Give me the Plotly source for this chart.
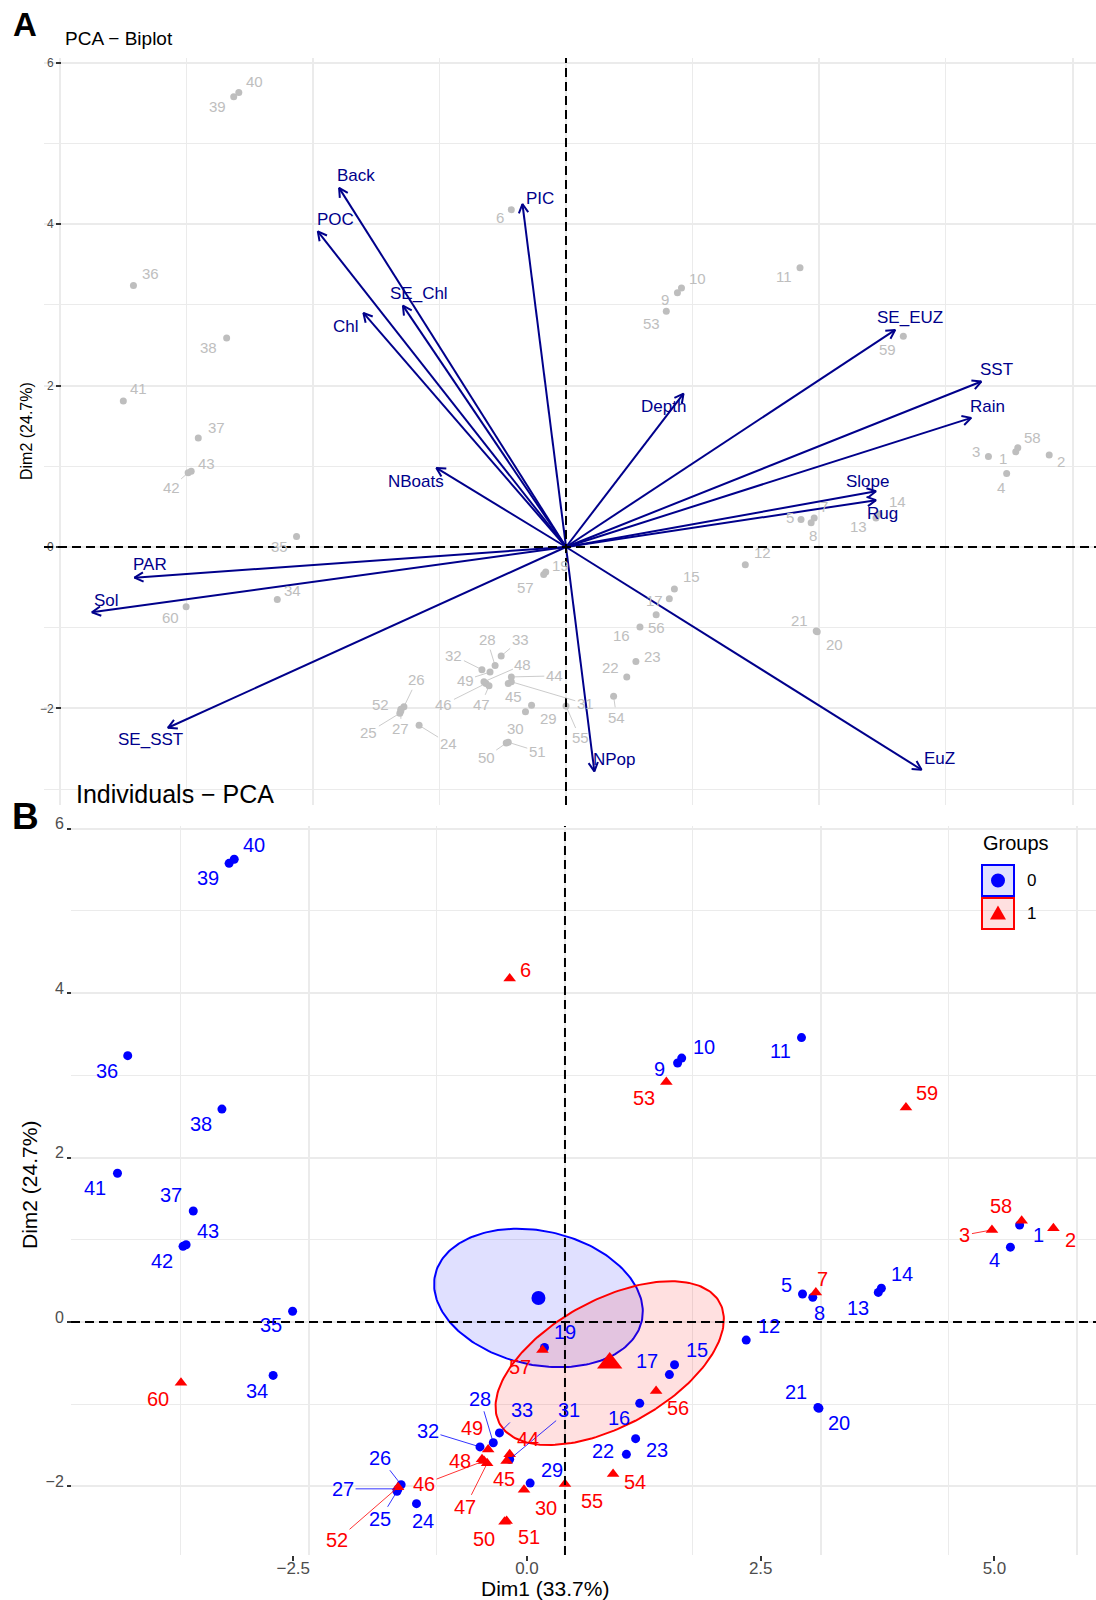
import math
import numpy as np
import plotly.graph_objects as go

W, H = 1096, 1600

# ---------------- data ----------------
IND_ID = [1, 2, 3, 4, 5, 6, 7, 8, 9, 10, 11, 12, 13, 14, 15, 16, 17, 19, 20, 21,
          22, 23, 24, 25, 26, 27, 28, 29, 30, 31, 32, 33, 34, 35, 36, 37, 38, 39, 40, 41,
          42, 43, 44, 45, 46, 47, 48, 49, 50, 51, 52, 53, 54, 55, 56, 57, 58, 59, 60]
DIM1 = [4.44, 4.77, 4.17, 4.35, 2.32, -0.54, 2.45, 2.42, 1.10, 1.14, 2.31, 1.77, 3.06, 3.09, 1.07, 0.73, 1.02, -0.20, 2.48, 2.47,
        0.60, 0.69, -1.45, -1.64, -1.60, -1.63, -0.70, -0.34, -0.40, -0.54, -0.83, -0.64, -2.85, -2.66, -4.27, -3.63, -3.35, -3.28, -3.23, -4.37,
        -3.73, -3.70, -0.54, -0.57, -0.79, -0.76, -0.81, -0.75, -0.59, -0.57, -1.63, 0.99, 0.47, 0.00, 0.89, -0.22, 4.46, 3.33, -3.75]
DIM2 = [1.18, 1.14, 1.12, 0.91, 0.34, 4.18, 0.36, 0.30, 3.15, 3.21, 3.46, -0.22, 0.36, 0.41, -0.52, -0.99, -0.64, -0.31, -1.05, -1.04,
        -1.61, -1.42, -2.21, -2.06, -1.98, -2.03, -1.47, -1.96, -2.04, -1.67, -1.52, -1.35, -0.65, 0.13, 3.24, 1.35, 2.59, 5.58, 5.63, 1.81,
        0.92, 0.94, -1.61, -1.69, -1.69, -1.72, -1.67, -1.55, -2.43, -2.42, -2.01, 2.92, -1.85, -1.97, -0.84, -0.34, 1.23, 2.61, -0.74]
GROUP = [0, 1, 1, 0, 0, 1, 1, 0, 0, 0, 0, 0, 0, 0, 0, 0, 0, 0, 0, 0,
         0, 0, 0, 0, 0, 0, 0, 0, 1, 0, 0, 0, 0, 0, 0, 0, 0, 0, 0, 0,
         0, 0, 1, 1, 1, 1, 1, 1, 1, 1, 1, 1, 1, 1, 1, 1, 1, 1, 1]

VAR_NAMES = ["Back", "POC", "PIC", "SE_Chl", "Chl", "NBoats", "SE_EUZ", "SST", "Rain",
             "Depth", "Slope", "Rug", "PAR", "Sol", "SE_SST", "NPop", "EuZ"]
VAR_D1 = [-2.24, -2.45, -0.43, -1.61, -2.00, -1.28, 3.25, 4.10, 4.00,
          1.16, 3.06, 3.06, -4.26, -4.68, -3.93, 0.28, 3.51]
VAR_D2 = [4.45, 3.91, 4.25, 2.99, 2.90, 0.98, 2.69, 2.05, 1.60,
          1.90, 0.69, 0.58, -0.38, -0.81, -2.24, -2.78, -2.76]

GROUP_NAMES = ["0", "1"]
Y_TICK_LABELS = [-2, 0, 2, 4, 6]
X_TICK_LABELS_B = [-2.5, 0.0, 2.5, 5.0]

# ---------------- layout / style ----------------
FONT = "Liberation Sans, Arial, sans-serif"
GRAY = "#BEBEBE"
NAVY = "#00008B"
GCOL = ["#0000FF", "#FF0000"]
GFILL = ["rgba(0,0,255,0.12)", "rgba(255,0,0,0.12)"]
GRID = "#EBEBEB"

A_DOM_X = [44 / W, 1.0]
A_DOM_Y = [1 - 805 / H, 1 - 58 / H]
A_XR = [-5.153, 5.232]
A_YR = [-3.197, 6.059]
B_DOM_X = [71 / W, 1.0]
B_DOM_Y = [1 - 1555 / H, 1 - 826 / H]
B_XR = [-4.824, 5.186]
B_YR = [-2.835, 6.034]
# displayed tick labels of panel B sit off the grid (label -> coordinate map)
B_XLAB_SCALE, B_XLAB_SHIFT = 0.9131, -0.371

A_SX = (A_DOM_X[1] - A_DOM_X[0]) * W / (A_XR[1] - A_XR[0])
A_SY = (A_DOM_Y[1] - A_DOM_Y[0]) * H / (A_YR[1] - A_YR[0])

GRID_X_MAJOR = [-5, -2.5, 0, 2.5, 5]
GRID_X_MINOR = [-3.75, -1.25, 1.25, 3.75]
GRID_Y_MAJOR = [-2, 0, 2, 4, 6]
GRID_Y_MINOR = [-3, -1, 1, 3, 5]

# label offsets in pixels (dx right, dy down)
A_OFF = {1: (-13, 7), 2: (12, 7), 3: (-12, -5), 4: (-6, 14), 5: (-11, -2), 6: (-11, 8), 7: (10, -11),
         8: (2, 13), 9: (-12, 7), 10: (16, -9), 11: (-16, 9), 12: (17, -12), 13: (-17, 9), 14: (18, -12),
         15: (17, -12), 16: (-18, 9), 17: (-15, 2), 19: (15, -7), 20: (17, 13), 21: (-17, -10), 22: (-16, -9),
         23: (17, -5), 24: (29, 18), 25: (-31, 19), 26: (13, -27), 27: (0, 18), 28: (-8, -26), 29: (17, 13),
         30: (-10, 17), 31: (74, 22), 32: (-28, -14), 33: (19, -16), 34: (15, -9), 35: (-17, 10), 36: (17, -12),
         37: (18, -11), 38: (-18, 10), 39: (-16, 10), 40: (16, -11), 41: (15, -12), 42: (-17, 15), 43: (15, -8),
         44: (43, -1), 45: (5, 13), 46: (-42, 21), 47: (-8, 19), 48: (39, -17), 49: (-25, 8), 50: (-20, 14),
         51: (29, 9), 52: (-20, -5), 53: (-15, 12), 54: (3, 21), 55: (14, 32), 56: (0, 13), 57: (-18, 13),
         58: (15, -10), 59: (-16, 13), 60: (-16, 11)}
A_SEG = {24, 25, 26, 27, 28, 31, 32, 33, 42, 44, 46, 47, 48, 49, 50, 51, 54, 55}
B_OFF = {1: (19, 10), 2: (17, 12), 3: (-27, 5), 4: (-16, 13), 5: (-16, -9), 6: (16, -8), 7: (7, -13),
         8: (7, 16), 9: (-18, 6), 10: (22, -11), 11: (-21, 13), 12: (23, -14), 13: (-20, 16), 14: (21, -14),
         15: (22, -15), 16: (-21, 15), 17: (-22, -14), 19: (21, -15), 20: (20, 15), 21: (-22, -15),
         22: (-23, -3), 23: (21, 11), 24: (7, 17), 25: (-17, 28), 26: (-21, -27), 27: (-55, 0), 28: (-13, -44),
         29: (22, -13), 30: (22, 18), 31: (59, -49), 32: (-52, -16), 33: (23, -23), 34: (-16, 16), 35: (-22, 14),
         36: (-21, 15), 37: (-22, -16), 38: (-21, 15), 39: (-21, 15), 40: (20, -14), 41: (-22, 15), 42: (-21, 15),
         43: (22, -14), 44: (18, -15), 45: (-3, 18), 46: (-60, 23), 47: (-22, 44), 48: (-22, 2), 49: (-16, -21),
         50: (-21, 17), 51: (22, 16), 52: (-61, 53), 53: (-22, 16), 54: (22, 8), 55: (27, 17), 56: (22, 17),
         57: (-22, 17), 58: (-21, -15), 59: (21, -14), 60: (-23, 16)}
B_SEG = {3, 25, 26, 27, 28, 31, 32, 33, 46, 47, 52}
VAR_OFF = {"Back": (17, -12), "POC": (18, -12), "PIC": (18, -5), "SE_Chl": (16, -12), "Chl": (-17, 14),
           "NBoats": (-20, 14), "SE_EUZ": (15, -12), "SST": (15, -12), "Rain": (16, -11), "Depth": (-20, 13),
           "Slope": (-8, -10), "Rug": (7, 13), "PAR": (16, -13), "Sol": (15, -12), "SE_SST": (-17, 12),
           "NPop": (20, -12), "EuZ": (18, -11)}

fig = go.Figure()
annotations = []
shapes = []

# ---------------- Panel A ----------------
fig.add_trace(go.Scatter(x=DIM1, y=DIM2, mode="markers", xaxis="x", yaxis="y",
                         marker=dict(color=GRAY, size=7), hoverinfo="skip", showlegend=False))
for i, pid in enumerate(IND_ID):
    dx, dy = A_OFF[pid]
    seg = pid in A_SEG
    annotations.append(dict(x=DIM1[i], y=DIM2[i], xref="x", yref="y", text=str(pid),
                            font=dict(size=15, color=GRAY, family=FONT),
                            showarrow=True, ax=dx, ay=dy, arrowhead=0, arrowwidth=0.8,
                            arrowcolor=GRAY if seg else "rgba(0,0,0,0)", standoff=3))

sx, sy = [], []
HEAD_LEN = 10
for vx, vy in zip(VAR_D1, VAR_D2):
    sx += [0, vx, None]
    sy += [0, vy, None]
    px, py = vx * A_SX, vy * A_SY
    n = math.hypot(px, py)
    ux, uy = px / n, py / n
    pts = []
    for ang in (math.radians(28), -math.radians(28)):
        hx = ux * math.cos(ang) - uy * math.sin(ang)
        hy = ux * math.sin(ang) + uy * math.cos(ang)
        pts.append(((px - HEAD_LEN * hx) / A_SX, (py - HEAD_LEN * hy) / A_SY))
    sx += [pts[0][0], vx, pts[1][0], None]
    sy += [pts[0][1], vy, pts[1][1], None]
fig.add_trace(go.Scatter(x=sx, y=sy, mode="lines", xaxis="x", yaxis="y",
                         line=dict(color=NAVY, width=2), hoverinfo="skip", showlegend=False))
for name, vx, vy in zip(VAR_NAMES, VAR_D1, VAR_D2):
    dx, dy = VAR_OFF[name]
    annotations.append(dict(x=vx, y=vy, xref="x", yref="y", text=name, showarrow=False,
                            xshift=dx, yshift=-dy, font=dict(size=17, color=NAVY, family=FONT)))

# ---------------- Panel B ----------------
def conf_ellipse(xs, ys, level=0.95, npts=200):
    X = np.column_stack([xs, ys])
    n = len(X)
    mu = X.mean(axis=0)
    cov = np.cov(X.T) / n
    t = math.sqrt(-2 * math.log(1 - level))
    vals, vecs = np.linalg.eigh(cov)
    th = np.linspace(0, 2 * np.pi, npts)
    circ = np.vstack([np.cos(th), np.sin(th)])
    pts = vecs @ (np.sqrt(vals)[:, None] * circ) * t + mu[:, None]
    return pts[0], pts[1], mu

symbols = ["circle", "triangle-up"]
sizes = [9, 11]
means = []
for g in (0, 1):
    gx = [DIM1[i] for i in range(len(IND_ID)) if GROUP[i] == g]
    gy = [DIM2[i] for i in range(len(IND_ID)) if GROUP[i] == g]
    ex, ey, mu = conf_ellipse(gx, gy)
    means.append(mu)
    fig.add_trace(go.Scatter(x=ex, y=ey, mode="lines", fill="toself", fillcolor=GFILL[g],
                             line=dict(color=GCOL[g], width=2), xaxis="x2", yaxis="y2",
                             hoverinfo="skip", showlegend=False))
for g in (0, 1):
    gx = [DIM1[i] for i in range(len(IND_ID)) if GROUP[i] == g]
    gy = [DIM2[i] for i in range(len(IND_ID)) if GROUP[i] == g]
    fig.add_trace(go.Scatter(x=gx, y=gy, mode="markers", xaxis="x2", yaxis="y2",
                             marker=dict(color=GCOL[g], size=sizes[g], symbol=symbols[g]),
                             hoverinfo="skip", showlegend=False))
for g in (0, 1):
    fig.add_trace(go.Scatter(x=[means[g][0]], y=[means[g][1]], mode="markers", xaxis="x2", yaxis="y2",
                             marker=dict(color=GCOL[g], size=[14, 22][g], symbol=symbols[g]),
                             hoverinfo="skip", showlegend=False))
# dummy trace for the overlay label axis
fig.add_trace(go.Scatter(x=[None], y=[None], xaxis="x3", yaxis="y2", showlegend=False, hoverinfo="skip"))

for i, pid in enumerate(IND_ID):
    dx, dy = B_OFF[pid]
    seg = pid in B_SEG
    col = GCOL[GROUP[i]]
    annotations.append(dict(x=DIM1[i], y=DIM2[i], xref="x2", yref="y2", text=str(pid),
                            font=dict(size=20, color=col, family=FONT),
                            showarrow=True, ax=dx, ay=dy, arrowhead=0, arrowwidth=0.8,
                            arrowcolor=col if seg else "rgba(0,0,0,0)", standoff=3))

# dashed reference lines
for xr, yr in (("x", "y"), ("x2", "y2")):
    shapes.append(dict(type="line", xref=xr, yref=yr + " domain", x0=0, x1=0, y0=0, y1=1,
                       line=dict(color="black", width=2, dash="9px,5px")))
    shapes.append(dict(type="line", xref=xr + " domain", yref=yr, x0=0, x1=1, y0=0, y1=0,
                       line=dict(color="black", width=2, dash="9px,5px")))


def paper_text(px, py, text, size, xanchor="center", angle=0, color="black"):
    return dict(x=px / W, y=1 - py / H, xref="paper", yref="paper", text=text, showarrow=False,
                xanchor=xanchor, yanchor="middle", textangle=angle,
                font=dict(size=size, color=color, family=FONT))


# legend (manual keys)
annotations.append(paper_text(1016, 843, "Groups", 20))
for g in (0, 1):
    top = 865 + g * 33
    shapes.append(dict(type="rect", xref="paper", yref="paper", x0=982 / W, x1=1014 / W,
                       y0=1 - top / H, y1=1 - (top + 31) / H, fillcolor=GFILL[g],
                       line=dict(color=GCOL[g], width=2)))
    cx, cy = 998, top + 15.5
    if g == 0:
        shapes.append(dict(type="circle", xref="paper", yref="paper", x0=(cx - 7) / W, x1=(cx + 7) / W,
                           y0=1 - (cy - 7) / H, y1=1 - (cy + 7) / H, fillcolor=GCOL[g],
                           line=dict(color=GCOL[g], width=0)))
    else:
        path = "M {:.5f} {:.5f} L {:.5f} {:.5f} L {:.5f} {:.5f} Z".format(
            (cx - 8) / W, 1 - (cy + 6) / H, (cx + 8) / W, 1 - (cy + 6) / H, cx / W, 1 - (cy - 8) / H)
        shapes.append(dict(type="path", xref="paper", yref="paper", path=path, fillcolor=GCOL[g],
                           line=dict(color=GCOL[g], width=0)))
    annotations.append(paper_text(1025, top + 15.5, GROUP_NAMES[g], 17, xanchor="left"))

# titles / axis titles
annotations += [
    paper_text(24.5, 24, "<b>A</b>", 33),
    paper_text(63, 38, "PCA − Biplot", 19, xanchor="left"),
    paper_text(27, 431, "Dim2 (24.7%)", 16, angle=-90),
    paper_text(25.5, 816, "<b>B</b>", 37),
    paper_text(74, 794, "Individuals − PCA", 25, xanchor="left"),
    paper_text(29, 1185, "Dim2 (24.7%)", 21, angle=-90),
    paper_text(545, 1588, "Dim1 (33.7%)", 21),
]


def ylab(v):
    return ("−" + str(abs(v))) if v < 0 else str(v)


def xlab(v):
    return ("−" + "{:.1f}".format(abs(v))) if v < 0 else "{:.1f}".format(v)


grid_common = dict(showline=False, zeroline=False, gridcolor=GRID, gridwidth=2, automargin=False)
fig.update_layout(
    width=W, height=H, margin=dict(l=0, r=0, t=0, b=0, pad=0, autoexpand=False),
    paper_bgcolor="white", plot_bgcolor="white",
    font=dict(family=FONT), showlegend=False,
    xaxis=dict(domain=A_DOM_X, range=A_XR, anchor="y", tickmode="array", tickvals=GRID_X_MAJOR,
               showticklabels=False, ticks="",
               minor=dict(tickvals=GRID_X_MINOR, showgrid=True, gridcolor=GRID, gridwidth=1, ticks=""),
               **grid_common),
    yaxis=dict(domain=A_DOM_Y, range=A_YR, anchor="free", position=61 / W, tickmode="array",
               tickvals=GRID_Y_MAJOR, ticktext=[ylab(v) for v in Y_TICK_LABELS],
               ticks="outside", ticklen=5, tickwidth=1.5, tickcolor="#333333",
               tickfont=dict(size=12, color="#4D4D4D"),
               minor=dict(tickvals=GRID_Y_MINOR, showgrid=True, gridcolor=GRID, gridwidth=1, ticks=""),
               **grid_common),
    xaxis2=dict(domain=B_DOM_X, range=B_XR, anchor="y2", tickmode="array", tickvals=GRID_X_MAJOR,
                showticklabels=False, ticks="",
                minor=dict(tickvals=GRID_X_MINOR, showgrid=True, gridcolor=GRID, gridwidth=1, ticks=""),
                **grid_common),
    xaxis3=dict(overlaying="x2", anchor="y2", range=B_XR, side="bottom", showgrid=False,
                zeroline=False, showline=False, automargin=False, tickmode="array",
                tickvals=[v * B_XLAB_SCALE + B_XLAB_SHIFT for v in X_TICK_LABELS_B],
                ticktext=[xlab(v) for v in X_TICK_LABELS_B],
                ticks="outside", ticklen=5, tickwidth=2, tickcolor="#333333", ticklabelstandoff=-7,
                tickfont=dict(size=17, color="#4D4D4D")),
    yaxis2=dict(domain=B_DOM_Y, range=B_YR, anchor="free", position=71 / W, tickmode="array",
                tickvals=GRID_Y_MAJOR, ticktext=[ylab(v) for v in Y_TICK_LABELS],
                ticks="outside", ticklen=4, tickwidth=2, tickcolor="#333333", ticklabelshift=-5,
                tickfont=dict(size=16, color="#4D4D4D"),
                minor=dict(tickvals=GRID_Y_MINOR, showgrid=True, gridcolor=GRID, gridwidth=1, ticks=""),
                **grid_common),
    annotations=annotations,
    shapes=shapes,
)

fig.write_html("out.html", config={"displayModeBar": False},
               post_script="document.body.style.margin='0';document.body.style.overflow='hidden';")
